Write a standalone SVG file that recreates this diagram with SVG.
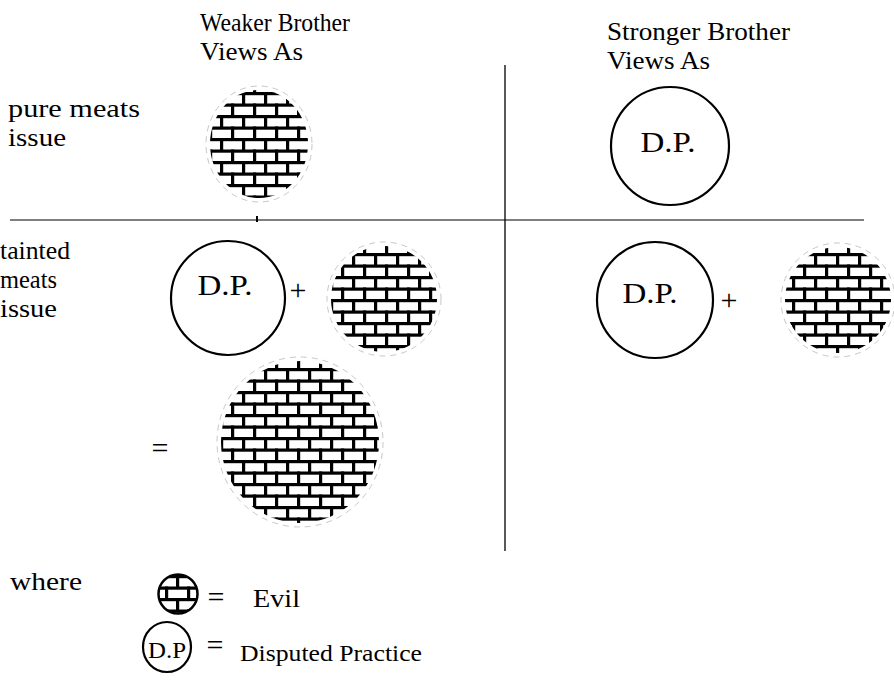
<svg xmlns="http://www.w3.org/2000/svg" width="894" height="685" viewBox="0 0 894 685">
<style>
text{font-family:"Liberation Serif","Times New Roman",serif;fill:#000}
.lbl{font-size:26px}
.dp{font-size:30px;text-anchor:middle}
.op{font-size:30px;text-anchor:middle}
.ring{fill:none;stroke:#000;stroke-width:2.2}
.halo{fill:none;stroke:#c8c8c8;stroke-width:1;stroke-dasharray:6 5}
.brick{fill:url(#bricks)}
</style>
<defs>
<pattern id="bricks" patternUnits="userSpaceOnUse" width="22" height="23">
<rect width="22" height="23" fill="#fff"/>
<rect x="0" y="0" width="22" height="3.2" fill="#000"/>
<rect x="0" y="11.5" width="22" height="3.2" fill="#000"/>
<rect x="0" y="0" width="3.2" height="12" fill="#000"/>
<rect x="11" y="11.5" width="3.2" height="12" fill="#000"/>
</pattern>
</defs>
<g id="headers">
<text class="lbl" x="200" y="31" textLength="150" lengthAdjust="spacingAndGlyphs">Weaker Brother</text>
<text class="lbl" x="200" y="60" textLength="103" lengthAdjust="spacingAndGlyphs">Views As</text>
<text class="lbl" x="607" y="40" textLength="183" lengthAdjust="spacingAndGlyphs">Stronger Brother</text>
<text class="lbl" x="607" y="69" textLength="103" lengthAdjust="spacingAndGlyphs">Views As</text>
<text class="lbl" x="8" y="117" textLength="132" lengthAdjust="spacingAndGlyphs">pure meats</text>
<text class="lbl" x="8" y="146" textLength="58" lengthAdjust="spacingAndGlyphs">issue</text>
<text class="lbl" x="0" y="259" textLength="70" lengthAdjust="spacingAndGlyphs">tainted</text>
<text class="lbl" x="0" y="288" textLength="57" lengthAdjust="spacingAndGlyphs">meats</text>
<text class="lbl" x="0" y="317" textLength="57" lengthAdjust="spacingAndGlyphs">issue</text>
<text class="lbl" x="10" y="590" textLength="72" lengthAdjust="spacingAndGlyphs">where</text>
</g>
<g id="connectors">
<line x1="10" y1="220" x2="864" y2="220" stroke="#555" stroke-width="1.3"/>
<line x1="505" y1="65" x2="505" y2="551" stroke="#000" stroke-width="1.3"/>
<line x1="257" y1="216" x2="257" y2="222" stroke="#000" stroke-width="2"/>
</g>
<g id="weak-pure-evil">
<ellipse class="brick" cx="259" cy="144" rx="49" ry="54"/>
<ellipse class="halo" cx="259" cy="144" rx="53" ry="58"/>
</g>
<g id="strong-pure-dp">
<circle class="ring" cx="670" cy="146" r="59"/>
<text class="dp" x="668" y="152" textLength="55" lengthAdjust="spacingAndGlyphs">D.P.</text>
</g>
<g id="weak-tainted-dp">
<circle class="ring" cx="228" cy="298" r="57"/>
<text class="dp" x="225" y="295" textLength="55" lengthAdjust="spacingAndGlyphs">D.P.</text>
</g>
<text class="op" x="298" y="300">+</text>
<g id="weak-tainted-evil">
<circle class="brick" cx="384" cy="299" r="53"/>
<circle class="halo" cx="384" cy="299" r="57"/>
</g>
<g id="strong-tainted-dp">
<circle class="ring" cx="655" cy="300" r="58"/>
<text class="dp" x="650" y="303" textLength="55" lengthAdjust="spacingAndGlyphs">D.P.</text>
</g>
<text class="op" x="729" y="310">+</text>
<g id="strong-tainted-evil">
<circle class="brick" cx="838" cy="300" r="53"/>
<circle class="halo" cx="838" cy="300" r="57"/>
</g>
<text class="op" x="160" y="458">=</text>
<g id="weak-result-evil">
<ellipse class="brick" cx="300" cy="442" rx="79" ry="81"/>
<ellipse class="halo" cx="300" cy="442" rx="83" ry="85"/>
</g>
<g id="legend-evil">
<circle class="brick" cx="178" cy="594" r="19"/>
<circle cx="178" cy="594" r="19.5" fill="none" stroke="#000" stroke-width="2.5"/>
<text class="op" x="216" y="607">=</text>
<text class="lbl" x="253" y="607" textLength="47" lengthAdjust="spacingAndGlyphs">Evil</text>
</g>
<g id="legend-dp">
<ellipse class="ring" cx="167" cy="647" rx="24" ry="25"/>
<text x="167" y="658" style="font-size:24px;text-anchor:middle" textLength="38" lengthAdjust="spacingAndGlyphs">D.P</text>
<text class="op" x="215" y="655">=</text>
<text x="240" y="661" style="font-size:23px" textLength="182" lengthAdjust="spacingAndGlyphs">Disputed Practice</text>
</g>
</svg>
